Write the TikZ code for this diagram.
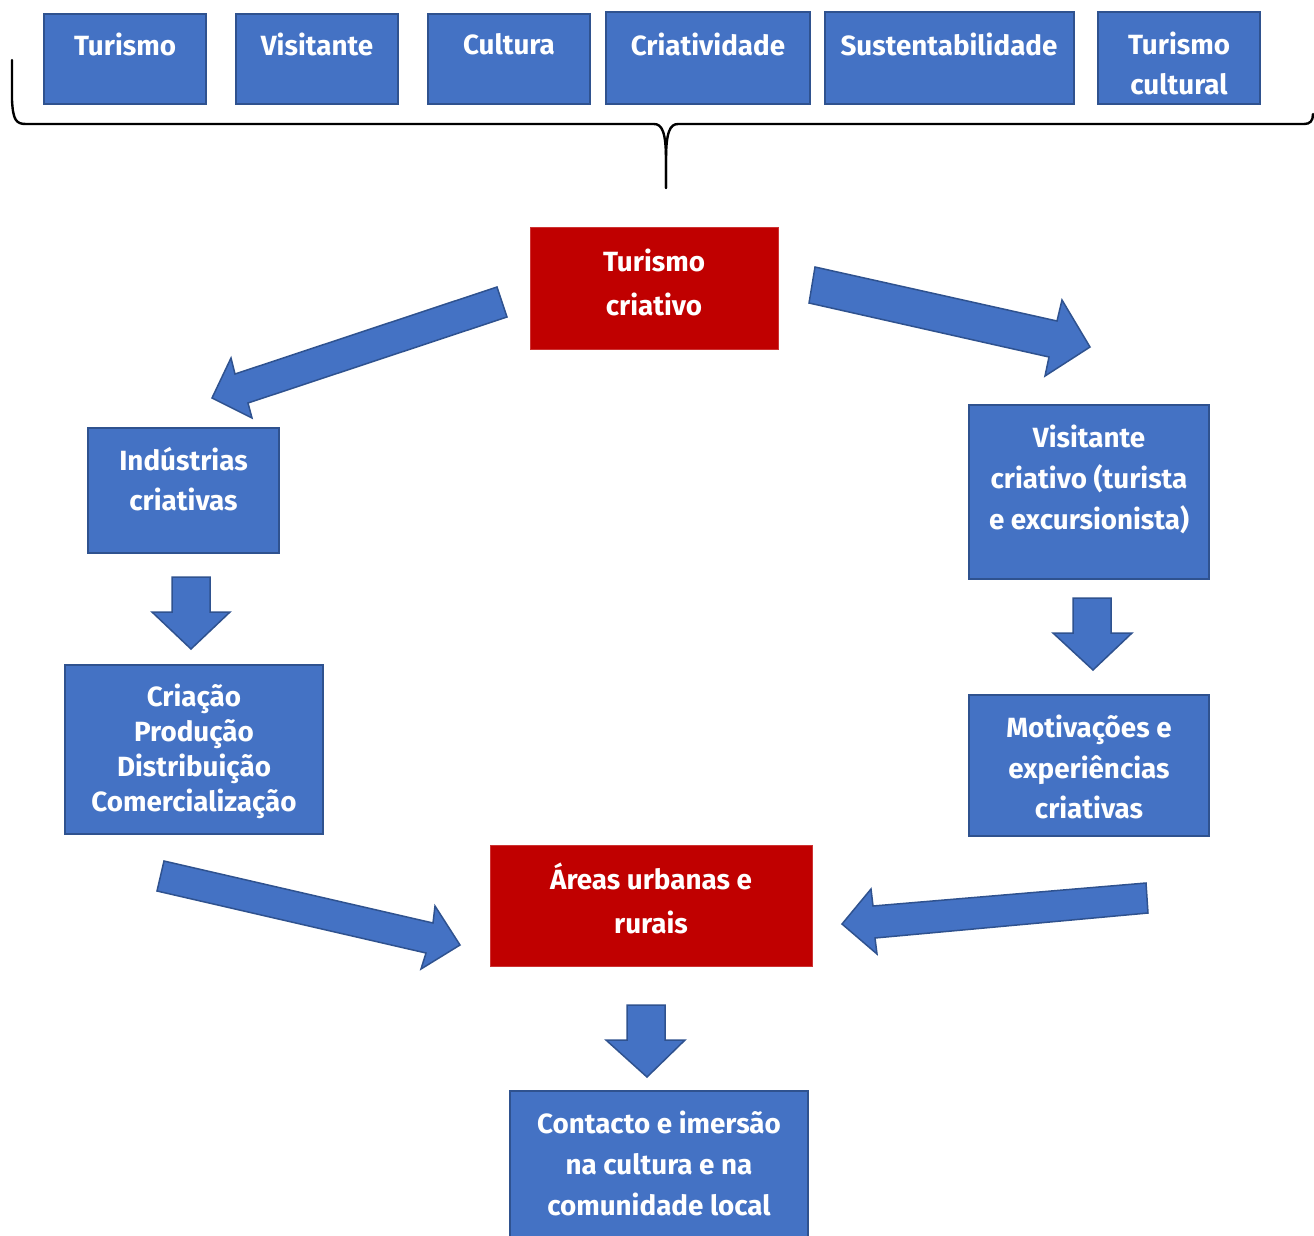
\documentclass[tikz,border=0pt]{standalone}
\usepackage{fontspec}
\setmainfont{Fira Sans}
\definecolor{boxblue}{HTML}{4472C4}
\definecolor{edgeblue}{HTML}{2F528F}
\definecolor{boxred}{HTML}{C00000}
\begin{document}
\begin{tikzpicture}[x=1pt,y=-1pt,
  bluebox/.style={rectangle, fill=boxblue, draw=edgeblue, line width=2pt, outer sep=0pt, inner sep=0pt, anchor=north west},
  redbox/.style={rectangle, fill=boxred, draw=boxred!80!white, line width=0.8pt, outer sep=0pt, inner sep=0pt, anchor=north west},
  txt/.style={text=white, align=center, inner sep=0pt, font=\bfseries\fontsize{27.8}{40}\selectfont},
  blockarrow/.style={fill=boxblue, draw=edgeblue, line width=1.5pt, line join=miter},
  bracepath/.style={draw=black, line width=2.4pt, line cap=round}
]
\clip (0,0) rectangle (1314,1235);
\fill[white] (0,0) rectangle (1314,1235);

% top row
\node[bluebox, minimum width=162pt, minimum height=90pt] (b1) at (44,14) {};
\node[bluebox, minimum width=162pt, minimum height=90pt] (b2) at (236,14) {};
\node[bluebox, minimum width=162pt, minimum height=90pt] (b3) at (428,14) {};
\node[bluebox, minimum width=204pt, minimum height=92pt] (b4) at (606,12) {};
\node[bluebox, minimum width=249pt, minimum height=92pt] (b5) at (825,12) {};
\node[bluebox, minimum width=162pt, minimum height=92pt] (b6) at (1098,12) {};
\node[txt] (t1) at (125,44) {Turismo};
\node[txt] (t2) at (317,44) {Visitante};
\node[txt] (t3) at (509,44) {Cultura};
\node[txt] (t4) at (708,44) {Criatividade};
\node[txt] (t5) at (949,44) {Sustentabilidade};
\node[txt] (t6) at (1179,63) {Turismo\\cultural};

% brace
\coordinate (bl) at (12,60);
\coordinate (bm) at (666,188);
\coordinate (br) at (1313,114);
\draw[bracepath] (bl) -- (12,100) .. controls (13,120) and (16,124) .. (26,124)
  -- (654,124) .. controls (662,124) and (666,132) .. (666,160) -- (bm);
\draw[bracepath] (bm) -- (666,160) .. controls (666,132) and (670,124) .. (678,124)
  -- (1304,124) .. controls (1310,124) and (1313,121) .. (br);

% main boxes
\node[redbox, minimum width=248pt, minimum height=122pt] (tc) at (530,227) {};
\node[txt, font=\bfseries\fontsize{27.8}{44}\selectfont] (ttc) at (654,282) {Turismo\\criativo};

\node[bluebox, minimum width=191pt, minimum height=125pt] (ind) at (88,428) {};
\node[txt] (tind) at (183.5,479) {Indústrias\\criativas};

\node[bluebox, minimum width=240pt, minimum height=174pt] (vis) at (969,405) {};
\node[txt, font=\bfseries\fontsize{27.8}{41}\selectfont] (tvis) at (1089,479) {Visitante\\criativo (turista\\e excursionista)};

\node[bluebox, minimum width=258pt, minimum height=169pt] (cri) at (65,665) {};
\node[txt, font=\bfseries\fontsize{27.8}{35}\selectfont] (tcri) at (194,751) {Criação\\Produção\\Distribuição\\Comercialização};

\node[bluebox, minimum width=240pt, minimum height=141pt] (mot) at (969,695) {};
\node[txt, font=\bfseries\fontsize{27.8}{40.5}\selectfont] (tmot) at (1089,767) {Motivações e\\experiências\\criativas};

\node[redbox, minimum width=322pt, minimum height=121pt] (are) at (490,845) {};
\node[txt, font=\bfseries\fontsize{27.8}{44}\selectfont] (tare) at (651,898) {Áreas urbanas e\\rurais};

\node[bluebox, minimum width=298pt, minimum height=160pt] (con) at (510,1091) {};
\node[txt, font=\bfseries\fontsize{27.8}{41}\selectfont] (tcon) at (659,1163) {Contacto e imersão\\na cultura e na\\comunidade local};

% block arrows
\draw[blockarrow] (497,287) -- (507,317) -- (248,403) -- (252,418) -- (212,398) -- (231,358) -- (235,374) -- cycle;
\draw[blockarrow] (815,267) -- (1057,321) -- (1062,300) -- (1090,347) -- (1045,376) -- (1049,357) -- (809,303) -- cycle;
\draw[blockarrow] (164,861) -- (433,923) -- (435,906) -- (460,945) -- (421,969) -- (426,953) -- (157,891) -- cycle;
\draw[blockarrow] (1146,883) -- (1148,913) -- (875,938) -- (877,954) -- (842,924) -- (871,889) -- (873,906) -- cycle;
\draw[blockarrow] (172,577) -- (210,577) -- (210,612) -- (230,612) -- (191,649) -- (152,612) -- (172,612) -- cycle;
\draw[blockarrow] (1073,598) -- (1111,598) -- (1111,633) -- (1132,633) -- (1093,670) -- (1053,633) -- (1073,633) -- cycle;
\draw[blockarrow] (627,1005) -- (665,1005) -- (665,1040) -- (685,1040) -- (647,1077) -- (606,1040) -- (627,1040) -- cycle;
\end{tikzpicture}
\end{document}
